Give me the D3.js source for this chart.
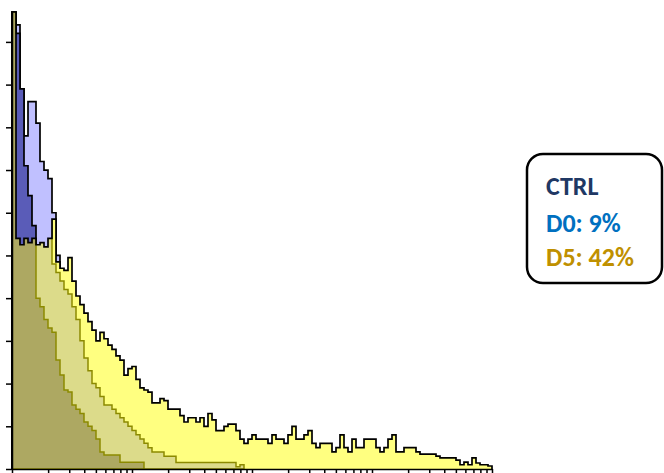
<!DOCTYPE html>
<html>
<head>
<meta charset="utf-8">
<script src="https://cdn.jsdelivr.net/npm/d3@7"></script>
<style>
  html, body { margin: 0; padding: 0; background: #ffffff; }
  svg { display: block; }
</style>
</head>
<body>
<svg id="chart" width="664" height="473"></svg>
<script>
// Histogram bins: 30 bins per decade on a log fluorescence axis (1 .. 10^4)
const binsPerDecade = 30;
const xDomain = [1, 10000];
const yTickValues = [0, 10, 20, 30, 40, 50, 60, 70, 80, 90, 100];

// Counts per bin (values above the plot top are clipped at the frame)
const d5Counts = [
  130, 54, 52.5, 54, 53, 54, 52.5, 53, 52, 54,
  58.5, 48.5, 47, 46.5, 49.5, 44, 40.5, 38.5, 36.5, 34.5,
  32.5, 30, 32, 30.5, 29, 28, 26.5, 25.5, 22, 23.5,
  24, 21, 19, 18.5, 18, 15.5, 15.5, 16.5, 16, 14,
  14, 14, 12.5, 11, 12, 12, 11, 12, 10, 13,
  11.5, 9, 9, 10, 10.5, 10.5, 9, 7, 6, 7,
  8, 7, 7, 7, 6, 8, 7, 7, 6, 8,
  10, 7, 7, 8, 9, 6, 5, 6, 6, 6,
  4, 5, 8, 5, 4, 7, 5, 5, 7, 7,
  7, 5, 4, 5, 7, 8, 4, 4, 5, 5,
  5, 4, 3.5, 3.5, 3.5, 3.5, 3, 2.6, 2.6, 2.6,
  2.6, 2.1, 1, 1.6, 1, 2.6, 1.4, 1, 1, 0.7
];

const unstainedCounts = [
  130, 104, 89, 78, 86, 86, 81, 72, 70, 68,
  60, 50, 44, 42, 38, 33, 28, 22, 17, 12,
  8, 5, 3, 2, 1, 0
];

const d0Counts = [
  130, 70, 70, 70, 70, 70, 70, 70, 70, 70,
  48, 46, 44, 42, 41, 38, 35, 30, 26, 23,
  20, 19, 17, 15, 15, 14, 13, 12, 11, 10,
  9, 8, 7, 6, 5, 4, 4, 4, 3, 3,
  3, 1.5, 1.5, 1.5, 1.5, 1.5, 1.5, 1.5, 1.5, 1.5,
  1.5, 1.5, 1.5, 1.5, 1.5, 1.5, 0.5, 1
];

const ctrlCounts = [
  130, 102, 89, 71, 64, 57, 40, 38, 35, 33,
  32, 25.5, 22, 18.5, 18, 15, 14, 13, 11, 10,
  9, 7, 4, 3.3, 3.3, 3.3, 3.3, 1.6, 1.6, 1.6,
  1.6, 1.6, 1.6
];

const legendLabels = ["CTRL", "D0: 9%", "D5: 42%"];
const legendColors = ["#1f3864", "#0070c0", "#bf9000"];

const svg = d3.select("#chart");

const x = d3.scaleLog().domain(xDomain).range([12, 492]);
const y = d3.scaleLinear().domain([0, 107]).range([469, 12]).clamp(true);

// bin i spans 10^(i/30) .. 10^((i+1)/30)
const edge = i => Math.pow(10, i / binsPerDecade);

function stepPoints(vals) {
  const pts = [[edge(0), 0]];
  vals.forEach((v, i) => pts.push([edge(i), v]));
  pts.push([edge(vals.length), vals[vals.length - 1]]);
  pts.push([edge(vals.length), 0]);
  return pts;
}

const line = d3.line()
  .x(d => x(d[0]))
  .y(d => y(d[1]))
  .curve(d3.curveStepAfter);

const defs = svg.append("defs");
defs.append("clipPath").attr("id", "d5clip")
  .append("path").attr("d", line(stepPoints(d5Counts)) + "Z");

const plot = svg.append("g");

// back: unstained and control peaks above the D5 profile
plot.append("path")
  .attr("d", line(stepPoints(unstainedCounts)) + "Z")
  .attr("fill", "#c0c0ff").attr("stroke", "#000").attr("stroke-width", 1.7);

plot.append("path")
  .attr("d", line(stepPoints(ctrlCounts)) + "Z")
  .attr("fill", "#5a5cb8").attr("stroke", "#000").attr("stroke-width", 1.7);

// D5
plot.append("path")
  .attr("d", line(stepPoints(d5Counts)) + "Z")
  .attr("fill", "#ffff80").attr("stroke", "none");

// D0 and CTRL within the D5 area
const inner = plot.append("g").attr("clip-path", "url(#d5clip)");
inner.append("path")
  .attr("d", line(stepPoints(d0Counts)) + "Z")
  .attr("fill", "#dcdb8a").attr("stroke", "#8c8a00").attr("stroke-width", 1.5);
inner.append("path")
  .attr("d", line(stepPoints(ctrlCounts)) + "Z")
  .attr("fill", "#ada862").attr("stroke", "#8c8a00").attr("stroke-width", 1.5);

// D5 outline on top
plot.append("path")
  .attr("d", line(stepPoints(d5Counts)))
  .attr("fill", "none").attr("stroke", "#000").attr("stroke-width", 1.7);

// axes
const xAxis = d3.axisBottom(x).tickSize(5).tickSizeOuter(0).tickFormat("");
const gx = svg.append("g").attr("transform", "translate(0,469)").call(xAxis);
gx.selectAll("path, line").attr("stroke", "#000").attr("stroke-width", 1.5);

const yAxis = d3.axisLeft(y).tickValues(yTickValues).tickSize(6).tickSizeOuter(0).tickFormat("");
const gy = svg.append("g").attr("transform", "translate(12,0)").call(yAxis);
gy.selectAll("path, line").attr("stroke", "#000").attr("stroke-width", 1.5);

// legend box
const legend = svg.append("g");
legend.append("rect")
  .attr("x", 527).attr("y", 154).attr("width", 135).attr("height", 129)
  .attr("rx", 16).attr("ry", 16)
  .attr("fill", "#fff").attr("stroke", "#000").attr("stroke-width", 2.5);

const baselines = [195, 232, 266];
legend.selectAll("text")
  .data(legendLabels)
  .join("text")
  .attr("x", 546)
  .attr("y", (d, i) => baselines[i])
  .attr("fill", (d, i) => legendColors[i])
  .attr("font-family", "Carlito, Calibri, Lato, sans-serif")
  .attr("font-weight", "bold")
  .attr("font-size", 26)
  .text(d => d);
</script>
</body>
</html>
